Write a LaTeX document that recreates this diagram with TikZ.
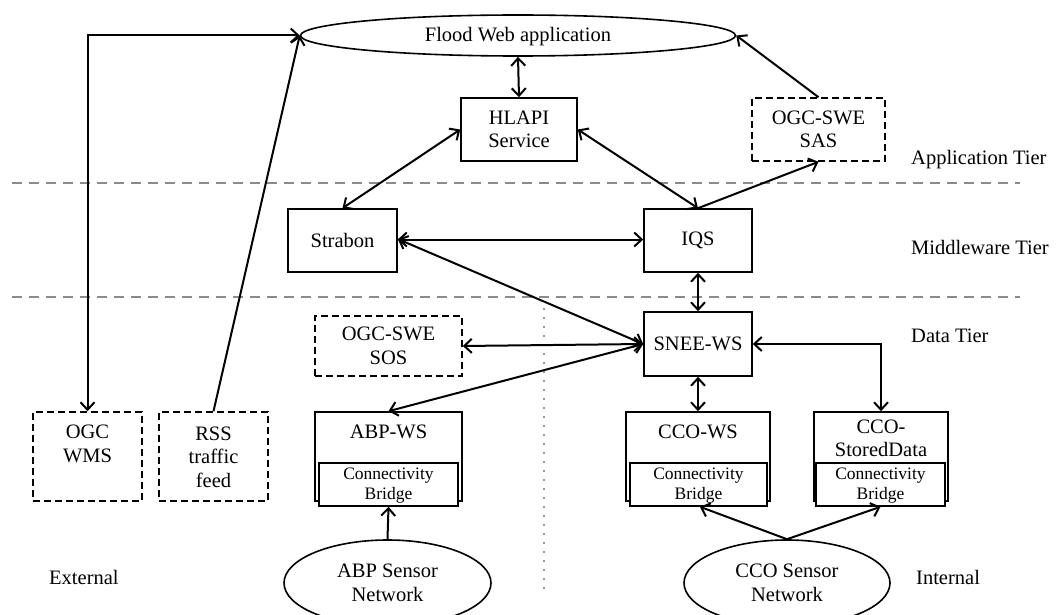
\documentclass[tikz,border=0pt]{standalone}
\usepackage{fontspec}
\setmainfont{Liberation Serif}
\usetikzlibrary{arrows.meta,shapes.geometric}
\begin{document}
\begin{tikzpicture}[x=1pt,y=-1pt,
  big/.style={font=\fontsize{20.5}{23.5}\selectfont},
  small/.style={font=\fontsize{17.5}{20}\selectfont},
  box/.style={draw, line width=1.6pt, inner sep=0pt, big, align=center, fill=white},
  dbox/.style={box, dash pattern=on 7pt off 4pt},
  ell/.style={ellipse, draw, line width=1.6pt, inner sep=0pt, big, align=center, fill=white},
  txt/.style={inner sep=0pt, big, align=center},
  tip/.tip={Straight Barb[length=7.5pt,width=14pt,line width=2pt]},
  arr/.style={line width=2pt, -tip},
  dbl/.style={line width=2pt, tip-tip},
  tierline/.style={line width=2pt, color=black!45, dash pattern=on 10pt off 7pt},
  dotline/.style={line width=2pt, color=black!40, dash pattern=on 1.5pt off 7.5pt}
]
\useasboundingbox (0,0) rectangle (1058,615);
\fill[white] (0,0) rectangle (1058,615);

% tier separators
\coordinate (t1a) at (12,183); \coordinate (t1b) at (1020,183);
\coordinate (t2a) at (12,297); \coordinate (t2b) at (1020,297);
\coordinate (dva) at (544,308); \coordinate (dvb) at (544,590);
\draw[tierline] (t1a) -- (t1b);
\draw[tierline] (t2a) -- (t2b);
\draw[dotline] (dva) -- (dvb);

% nodes
\node[ell, minimum width=435pt, minimum height=41pt] (flood) at (518,35.5) {};
\node[txt] (floodt) at (518,37) {Flood Web application};
\node[box, minimum width=116pt, minimum height=63pt] (hlapi) at (519,129.5) {HLAPI\\Service};
\node[dbox, minimum width=133pt, minimum height=63pt] (sas) at (818.5,129.5) {OGC-SWE\\SAS};
\node[box, minimum width=109pt, minimum height=63pt] (strabon) at (342.5,240.5) {Strabon};
\node[box, minimum width=108pt, minimum height=63pt] (iqs) at (698,240.5) {IQS};
\node[box, minimum width=108pt, minimum height=64pt] (snee) at (698,344) {SNEE-WS};
\node[dbox, minimum width=147pt, minimum height=60pt] (sos) at (388.5,346) {OGC-SWE\\SOS};

\node[dbox, minimum width=109pt, minimum height=89pt] (wms) at (87.5,456.5) {};
\node[txt] (wmst) at (87.5,444) {OGC\\WMS};
\node[dbox, minimum width=109pt, minimum height=89pt] (rss) at (213.5,456.5) {};
\node[txt] (rsst) at (213.5,457) {RSS\\traffic\\feed};

\node[box, minimum width=147pt, minimum height=89pt] (abp) at (388.5,456.5) {};
\node[txt] (abpt) at (388.5,432) {ABP-WS};
\node[box, small, minimum width=139pt, minimum height=43pt] (abpbr) at (388.5,484.5) {};
\node[txt, small] (abpbrt) at (388.5,486) {Connectivity\\Bridge};

\node[box, minimum width=144pt, minimum height=89pt] (ccows) at (698,456.5) {};
\node[txt] (ccowst) at (698,432) {CCO-WS};
\node[box, small, minimum width=137pt, minimum height=43pt] (ccowsbr) at (698.5,484.5) {};
\node[txt, small] (ccowsbrt) at (698.5,486) {Connectivity\\Bridge};

\node[box, minimum width=134pt, minimum height=89pt] (ccosd) at (881,456.5) {};
\node[txt] (ccosdt) at (881,438.5) {CCO-\\StoredData};
\node[box, small, minimum width=129pt, minimum height=43pt] (ccosdbr) at (880.5,484.5) {};
\node[txt, small] (ccosdbrt) at (880.5,486) {Connectivity\\Bridge};

\node[ell, minimum width=207pt, minimum height=86pt] (abpnet) at (387.5,583) {ABP Sensor\\Network};
\node[ell, minimum width=206pt, minimum height=86pt] (cconet) at (787,583) {CCO Sensor\\Network};

% tier labels
\node[txt, anchor=west] (lapp) at (911,160) {Application Tier};
\node[txt, anchor=west] (lmid) at (911,247) {Middleware Tier};
\node[txt, anchor=west] (ldata) at (911,336) {Data Tier};
\node[txt, anchor=west] (lint) at (916,577) {Internal};
\node[txt, anchor=west] (lext) at (49,577) {External};

% connectors
\draw[dbl] (wms.north) |- (flood.west);
\draw[arr] (rss.north) -- (flood.west);
\draw[dbl] (flood.south) -- (hlapi.north);
\draw[dbl] (hlapi.west) -- (strabon.north);
\draw[dbl] (hlapi.east) -- (iqs.north);
\draw[arr] (iqs.north) -- (sas.south);
\draw[arr] (sas.north) -- (flood.east);
\draw[dbl] ([yshift=1pt]strabon.east) -- ([yshift=1pt]iqs.west);
\draw[dbl] (iqs.south) -- (snee.north);
\draw[dbl] ([yshift=1.5pt]strabon.east) -- (snee.west);
\draw[dbl] (sos.east) -- (snee.west);
\draw[dbl] (abp.north) -- (snee.west);
\draw[dbl] (snee.south) -- (ccows.north);
\draw[dbl] (snee.east) -| (ccosd.north);
\draw[arr] (abpnet.north) -- (abpbr.south);
\draw[arr] (cconet.north) -- ([xshift=1.5pt]ccowsbr.south);
\draw[arr] (cconet.north) -- (ccosdbr.south);
\end{tikzpicture}
\end{document}
